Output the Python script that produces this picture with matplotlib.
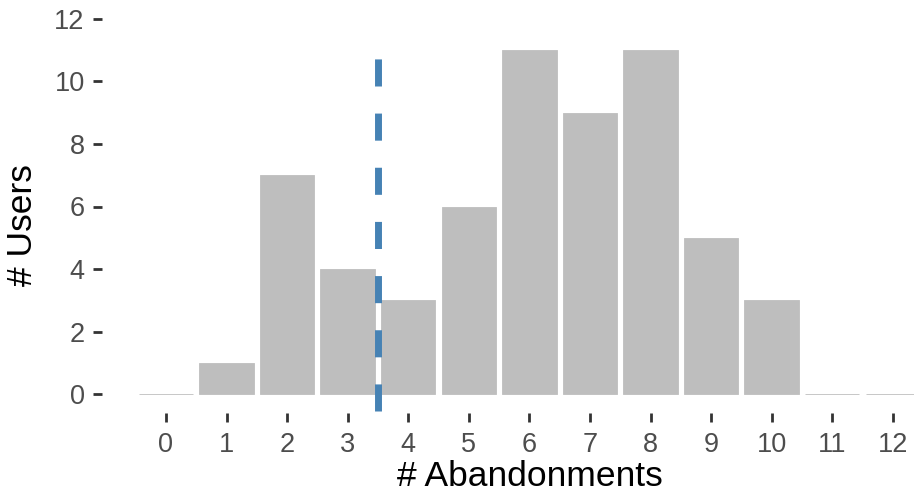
import matplotlib
matplotlib.use("Agg")
from matplotlib import pyplot as plt

plt.rcParams['font.family'] = ['Liberation Sans', 'DejaVu Sans']

# 数据
abandonments = [0, 1, 2, 3, 4, 5, 6, 7, 8, 9, 10, 11, 12]
users = [0, 1, 7, 4, 3, 6, 11, 9, 11, 5, 3, 0, 0]
y_ticks = [0, 2, 4, 6, 8, 10, 12]
cutoff = 3.5

fig = plt.figure(figsize=(9.14, 4.93), dpi=100)
ax = fig.add_axes([102 / 914, 80 / 493, 812 / 914, 413 / 493])

ax.bar(abandonments, users, width=0.9, color='#BEBEBE', edgecolor='#BEBEBE', linewidth=0.6)
ax.vlines(cutoff, -0.55, 11.55, colors='#4682B4', linewidth=5, linestyles=(0, (3.9, 3.9)))

ax.set_xlim(-1.056, 12.35)
ax.set_ylim(-0.6, 12.6)
ax.set_xticks(abandonments)
ax.set_yticks(y_ticks)
for s in ax.spines.values():
    s.set_visible(False)
ax.tick_params(axis='both', direction='out', length=6.5, width=2, color='#333333',
               labelsize=19.5, labelcolor='#4D4D4D')
ax.tick_params(axis='y', pad=6)
ax.tick_params(axis='x', pad=7)
ax.set_xlabel('# Abandonments', fontsize=25.5, color='black')
ax.set_ylabel('# Users', fontsize=25.5, color='black')
ax.xaxis.set_label_coords(0.527, -0.115)
ax.yaxis.set_label_coords(-0.077, 0.455)

plt.savefig('out.png', dpi=100)
